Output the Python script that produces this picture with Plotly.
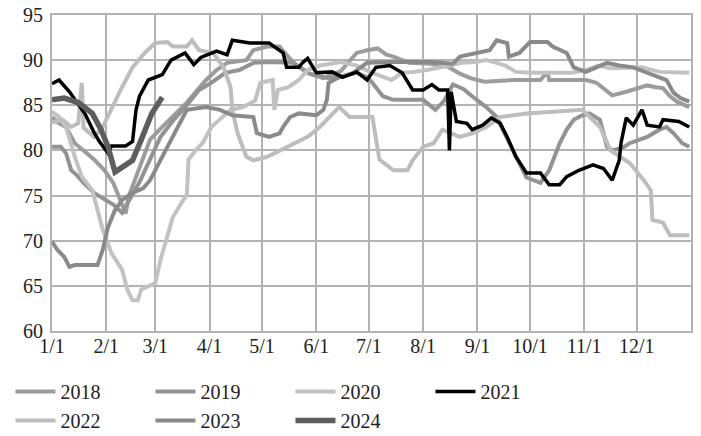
import pandas as pd
import plotly.graph_objects as go

# 各年份数据（月-日，数值）
d2018 = ["01-01", "01-05", "01-09", "01-14", "01-19", "01-25", "01-31", "02-05", "02-09", "02-12",
         "02-14", "02-19", "02-26", "03-05", "03-13", "03-19", "03-25", "03-30", "04-05", "04-11",
         "04-22", "04-26", "05-04", "05-11", "05-14", "05-20", "05-28", "06-05", "06-15", "06-24",
         "06-30", "07-06", "07-11", "07-15", "07-24", "08-05", "08-15", "08-22", "08-28", "09-05",
         "09-21", "10-07", "10-11", "10-12", "10-18", "11-02", "11-08", "11-12", "11-17", "11-25",
         "12-03", "12-07", "12-12", "12-16", "12-20", "12-24", "12-31"]
v2018 = [83.7, 83.0, 82.6, 80.8, 80.0, 79.0, 77.8, 76.4, 74.5, 73.0,
         75.0, 77.5, 81.2, 82.6, 84.1, 85.3, 86.7, 87.8, 88.9, 89.7,
         90.0, 91.1, 91.5, 91.5, 90.8, 89.5, 88.5, 88.0, 88.8, 90.8,
         91.1, 91.3, 90.6, 90.4, 89.7, 89.6, 89.3, 88.5, 88.0, 87.6,
         87.8, 87.8, 88.7, 87.8, 87.8, 87.8, 87.5, 86.9, 86.1, 86.5,
         87.0, 87.2, 87.0, 86.9, 86.0, 85.4, 84.8]

d2019 = ["01-01", "01-06", "01-09", "01-12", "01-15", "01-19", "01-25", "01-29", "02-05", "02-10",
         "02-15", "02-20", "02-26", "03-04", "03-12", "03-19", "03-26", "04-02", "04-10", "04-18",
         "04-26", "05-04", "05-19", "05-28", "06-08", "06-18", "06-24", "06-30", "07-03", "07-09",
         "07-15", "08-01", "08-08", "08-13", "08-18", "08-24", "08-29", "09-06", "09-12", "09-18",
         "09-23", "09-29", "10-07", "10-12", "10-18", "10-22", "10-26", "10-31", "11-04", "11-10",
         "11-14", "11-17", "11-23", "11-27", "12-07", "12-14", "12-18", "12-22", "12-27", "12-31"]
v2019 = [80.4, 80.4, 79.7, 77.8, 77.3, 76.4, 75.3, 74.8, 74.0, 73.1,
         74.8, 76.5, 79.0, 81.5, 83.5, 85.0, 86.7, 87.5, 88.6, 88.9,
         89.7, 89.8, 89.7, 88.5, 88.0, 88.3, 88.6, 88.1, 87.5, 86.0,
         85.6, 85.6, 84.5, 85.5, 87.3, 86.8, 86.0, 84.8, 83.7, 81.2,
         79.3, 77.0, 76.4, 77.8, 80.8, 82.3, 83.4, 83.9, 84.1, 83.4,
         80.4, 80.0, 80.3, 80.8, 81.5, 82.3, 82.6, 81.9, 80.8, 80.4]

d2020 = ["01-01", "01-05", "01-09", "01-14", "01-18", "01-24", "01-30", "02-04", "02-10", "02-13",
         "02-16", "02-19", "02-21", "03-01", "03-04", "03-08", "03-11", "03-16", "03-19", "03-20",
         "03-24", "03-28", "04-02", "04-13", "04-20", "04-27", "04-30", "05-07", "05-08", "05-10",
         "05-16", "05-22", "05-27", "06-03", "06-11", "06-15", "06-24", "07-03", "07-14", "07-20",
         "07-27", "08-03", "08-16", "08-23", "08-31", "09-06", "09-12", "09-17", "09-23", "10-01",
         "10-11", "10-25", "11-02", "11-09", "11-16", "11-24", "12-04", "12-14", "12-31"]
v2020 = [84.3, 83.7, 82.6, 79.3, 77.1, 75.6, 71.2, 68.6, 66.8, 64.6,
         63.4, 63.4, 64.6, 65.3, 67.9, 70.4, 72.6, 74.2, 75.1, 79.0,
         80.0, 80.8, 82.6, 84.5, 84.8, 85.5, 87.5, 87.8, 84.5, 86.7,
         87.0, 87.8, 88.9, 89.4, 89.7, 89.8, 89.4, 88.6, 87.8, 88.6,
         88.7, 88.9, 89.4, 89.7, 89.8, 90.0, 89.7, 89.4, 88.7, 88.6,
         88.6, 88.6, 88.9, 89.4, 89.1, 89.1, 89.2, 88.7, 88.6]

d2021 = ["01-01", "01-05", "01-11", "01-20", "01-25", "01-28", "02-02", "02-04", "02-12", "02-16",
         "02-18", "02-20", "02-25", "03-05", "03-10", "03-18", "03-23", "03-27", "04-05", "04-11",
         "04-14", "04-24", "05-05", "05-13", "05-15", "05-22", "05-24", "05-27", "06-01", "06-10",
         "06-16", "06-24", "06-30", "07-05", "07-13", "07-20", "07-26", "08-01", "08-06", "08-10",
         "08-15", "08-16", "08-17", "08-20", "08-26", "08-29", "09-04", "09-09", "09-14", "09-18",
         "09-23", "09-29", "10-07", "10-12", "10-18", "10-22", "10-29", "11-06", "11-12", "11-17",
         "11-21", "11-22", "11-25", "11-29", "12-04", "12-07", "12-14", "12-16", "12-25", "12-31"]
v2021 = [87.4, 87.8, 86.5, 84.0, 82.0, 81.0, 79.7, 80.5, 80.5, 81.0,
         84.5, 86.0, 87.8, 88.4, 90.0, 90.8, 89.5, 90.3, 91.0, 90.6,
         92.2, 91.9, 91.9, 90.8, 89.2, 89.2, 89.7, 90.2, 88.6, 88.7,
         88.1, 88.7, 87.8, 89.2, 89.4, 88.6, 86.7, 86.7, 87.3, 86.7,
         86.7, 80.0, 86.5, 83.2, 83.0, 82.3, 82.8, 83.6, 83.0, 81.5,
         79.3, 77.5, 77.5, 76.2, 76.2, 77.1, 77.8, 78.4, 78.0, 76.7,
         78.9, 80.8, 83.6, 82.8, 84.5, 82.8, 82.6, 83.4, 83.2, 82.6]

d2022 = ["01-01", "01-07", "01-12", "01-16", "01-18", "01-19", "01-25", "01-30", "02-10", "02-16",
         "02-23", "03-01", "03-08", "03-11", "03-19", "03-22", "03-26", "04-03", "04-09", "04-13",
         "04-14", "04-17", "04-22", "04-26", "05-04", "05-11", "05-19", "05-27", "06-03", "06-10",
         "06-14", "06-20", "07-03", "07-07", "07-15", "07-23", "07-26", "08-01", "08-07", "08-12",
         "08-22", "08-29", "09-06", "09-14", "09-29", "10-31", "11-04", "11-10", "11-16", "11-27",
         "12-05", "12-09", "12-10", "12-16", "12-20", "12-31"]
v2022 = [83.1, 83.4, 82.6, 83.0, 87.5, 82.5, 81.5, 82.6, 87.0, 89.2,
         90.8, 91.9, 92.0, 91.5, 91.5, 92.2, 91.1, 90.8, 89.2, 87.0,
         84.5, 81.9, 79.3, 78.9, 79.3, 80.0, 80.8, 81.5, 82.6, 84.1,
         84.8, 83.7, 83.7, 79.0, 77.8, 77.8, 78.9, 80.4, 80.8, 82.3,
         81.5, 81.9, 82.6, 83.7, 84.1, 84.5, 83.7, 82.6, 80.0, 78.6,
         76.7, 75.6, 72.3, 72.0, 70.6, 70.6]

d2023 = ["01-01", "01-04", "01-08", "01-11", "01-14", "01-27", "01-30", "02-02", "02-06", "02-10",
         "02-16", "02-22", "02-26", "03-01", "03-07", "03-13", "03-19", "03-30", "04-07", "04-14",
         "04-26", "04-28", "05-05", "05-11", "05-13", "05-17", "05-22", "06-01", "06-05", "06-07",
         "06-08", "06-14", "06-22", "06-30", "07-15", "08-05", "08-18", "08-22", "09-01", "09-08",
         "09-12", "09-18", "09-19", "09-25", "10-01", "10-11", "10-14", "10-22", "10-26", "11-02",
         "11-14", "11-21", "11-29", "12-10", "12-18", "12-22", "12-26", "12-31"]
v2023 = [69.9, 69.0, 68.2, 67.1, 67.3, 67.3, 69.0, 71.5, 73.4, 74.5,
         75.3, 75.8, 76.7, 77.8, 80.0, 82.3, 84.5, 84.8, 84.5, 83.9,
         83.7, 81.9, 81.5, 81.9, 82.6, 83.7, 84.1, 83.9, 84.5, 85.6,
         87.5, 88.1, 88.6, 89.7, 89.8, 89.8, 89.6, 90.4, 90.8, 91.1,
         92.2, 91.9, 90.4, 90.8, 92.0, 92.0, 91.5, 90.8, 89.2, 88.7,
         89.7, 89.4, 89.2, 88.4, 87.8, 86.4, 85.8, 85.4]

d2024 = ["01-01", "01-08", "01-16", "01-24", "01-29", "02-02", "02-06", "02-16", "02-21", "02-27",
         "03-05"]
v2024 = [85.6, 85.8, 85.3, 84.1, 82.3, 80.4, 77.6, 78.9, 81.2, 84.1,
         85.9]

month_ticks = ["01-01", "02-01", "03-01", "04-01", "05-01", "06-01",
               "07-01", "08-01", "09-01", "10-01", "11-01", "12-01"]
month_labels = ["1/1", "2/1", "3/1", "4/1", "5/1", "6/1",
                "7/1", "8/1", "9/1", "10/1", "11/1", "12/1"]


def to_date(days):
    return pd.to_datetime(["2001-" + d for d in days])


# (名称, 日期, 数值, 颜色, 线宽, 图例顺序)
series = [
    ("2018", d2018, v2018, "#9c9c9c", 4, 1),
    ("2019", d2019, v2019, "#939393", 4, 2),
    ("2020", d2020, v2020, "#c2c2c2", 4, 3),
    ("2022", d2022, v2022, "#bdbdbd", 4, 5),
    ("2023", d2023, v2023, "#8a8a8a", 4, 6),
    ("2021", d2021, v2021, "#000000", 3.5, 4),
    ("2024", d2024, v2024, "#5e5e5e", 5.5, 7),
]

fig = go.Figure()
for name, days, vals, color, width, rank in series:
    fig.add_trace(go.Scatter(
        x=to_date(days),
        y=vals,
        mode="lines",
        name=name,
        legendrank=rank,
        line=dict(color=color, width=width),
    ))

font = dict(family="Liberation Serif, Times New Roman, serif", size=20, color="#222222")

fig.update_layout(
    width=701,
    height=436,
    margin=dict(l=52, r=10, t=15, b=105, autoexpand=False),
    plot_bgcolor="white",
    paper_bgcolor="white",
    font=font,
    showlegend=True,
    legend=dict(
        orientation="h",
        x=-0.065, xanchor="left",
        y=-0.13, yanchor="top",
        entrywidth=85,
        entrywidthmode="pixels",
        tracegroupgap=0,
        itemwidth=40,
        font=font,
    ),
)

fig.update_xaxes(
    type="date",
    range=["2001-01-01", "2002-01-01"],
    tickvals=to_date(month_ticks),
    ticktext=month_labels,
    showgrid=True,
    gridcolor="#b3b3b3",
    gridwidth=2,
    showline=True,
    linecolor="#b3b3b3",
    linewidth=2,
    mirror=True,
    ticks="",
    ticklabelstandoff=-4,
    automargin=False,
    tickfont=font,
)
fig.update_yaxes(
    range=[60, 95],
    dtick=5,
    showgrid=True,
    gridcolor="#b3b3b3",
    gridwidth=2,
    showline=True,
    linecolor="#b3b3b3",
    linewidth=2,
    mirror=True,
    ticks="",
    zeroline=False,
    ticklabelstandoff=3,
    automargin=False,
    tickfont=font,
)

# 去掉页面默认的 8px 边距，隐藏工具栏
fig.write_html(
    "out.html",
    config={"displayModeBar": False},
    post_script="document.body.style.margin='0';",
)
